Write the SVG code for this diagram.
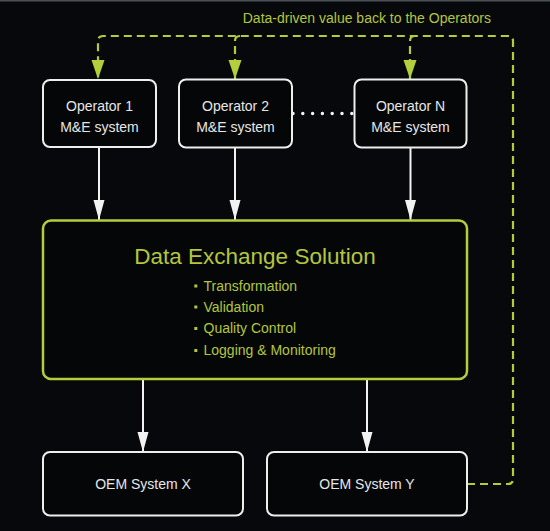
<svg xmlns="http://www.w3.org/2000/svg" width="550" height="531" viewBox="0 0 550 531">
<style>
.box{fill:#050608;stroke:#eeeeee;stroke-width:2}
.wt{font-family:"Liberation Sans",Arial,sans-serif;font-size:14px;fill:#e6e6e6;text-anchor:middle}
.gt{font-family:"Liberation Sans",Arial,sans-serif;fill:#b3c63c}
.wl{stroke:#f2f2f2;stroke-width:2;fill:none}
.gl{stroke:#b4cc3a;stroke-width:2.2;fill:none;stroke-dasharray:8 5}
</style>
<defs>
<marker id="aw" markerUnits="userSpaceOnUse" markerWidth="20" markerHeight="12" refX="20" refY="6" orient="auto"><path d="M0,0.5 L20,6 L0,11.5 z" fill="#f2f2f2"/></marker>
<marker id="ag" markerUnits="userSpaceOnUse" markerWidth="19" markerHeight="14" refX="19" refY="7" orient="auto"><path d="M0,0.5 L19,7 L0,13.5 z" fill="#b4cf3c"/></marker>
</defs>
<rect width="550" height="531" fill="#06080b"/>
<rect width="550" height="1.5" fill="#4a5056"/>
<text class="gt" x="491" y="22.7" font-size="14" text-anchor="end" fill="#a9bd3a">Data-driven value back to the Operators</text>
<g id="connectors">
<path class="gl" d="M467,484 H508 Q513,484 513,479 V41 Q513,36 508,36 H103 Q98,36 98,41 V79" marker-end="url(#ag)"/>
<path class="gl" d="M240,36 Q235,36 235,41 V79" marker-end="url(#ag)"/>
<path class="gl" d="M415,36 Q410,36 410,41 V79" marker-end="url(#ag)"/>
<path class="wl" d="M99,147 V220" marker-end="url(#aw)"/>
<path class="wl" d="M235,148 V220" marker-end="url(#aw)"/>
<path class="wl" d="M410.5,148 V220" marker-end="url(#aw)"/>
<path class="wl" d="M143,379 V452" marker-end="url(#aw)"/>
<path class="wl" d="M367,379 V452" marker-end="url(#aw)"/>
<path d="M293,113.5 H352" stroke="#f2f2f2" stroke-width="3.5" stroke-linecap="round" stroke-dasharray="0 9.8" fill="none"/>
</g>
<g id="op1">
<rect class="box" x="43" y="80" width="113" height="67" rx="7"/>
<text class="wt" x="99.5" y="110.5">Operator 1</text>
<text class="wt" x="99.5" y="131.5">M&amp;E system</text>
</g>
<g id="op2">
<rect class="box" x="179" y="79.5" width="113" height="68" rx="7"/>
<text class="wt" x="235.5" y="110.5">Operator 2</text>
<text class="wt" x="235.5" y="131.5">M&amp;E system</text>
</g>
<g id="opn">
<rect class="box" x="354.5" y="79.5" width="112" height="68" rx="7"/>
<text class="wt" x="410.5" y="110.5">Operator N</text>
<text class="wt" x="410.5" y="131.5">M&amp;E system</text>
</g>
<g id="des">
<rect x="43" y="220.5" width="424" height="158.5" rx="8" fill="#050608" stroke="#b5cc3c" stroke-width="2.5"/>
<text class="gt" x="255" y="264" font-size="22.5" text-anchor="middle">Data Exchange Solution</text>
<g fill="#b3c63c">
<rect x="194.3" y="284.5" width="3" height="3"/>
<rect x="194.3" y="305.5" width="3" height="3"/>
<rect x="194.3" y="327" width="3" height="3"/>
<rect x="194.3" y="349" width="3" height="3"/>
</g>
<text class="gt" x="203.5" y="290.7" font-size="14">Transformation</text>
<text class="gt" x="203.5" y="311.7" font-size="14">Validation</text>
<text class="gt" x="203.5" y="333" font-size="14">Quality Control</text>
<text class="gt" x="203.5" y="355" font-size="14">Logging &amp; Monitoring</text>
</g>
<g id="oemx">
<rect class="box" x="43" y="452" width="200" height="63.5" rx="7"/>
<text class="wt" x="143" y="489" font-size="13">OEM System X</text>
</g>
<g id="oemy">
<rect class="box" x="267" y="452" width="200" height="63.5" rx="7"/>
<text class="wt" x="367" y="489" font-size="13">OEM System Y</text>
</g>
</svg>
